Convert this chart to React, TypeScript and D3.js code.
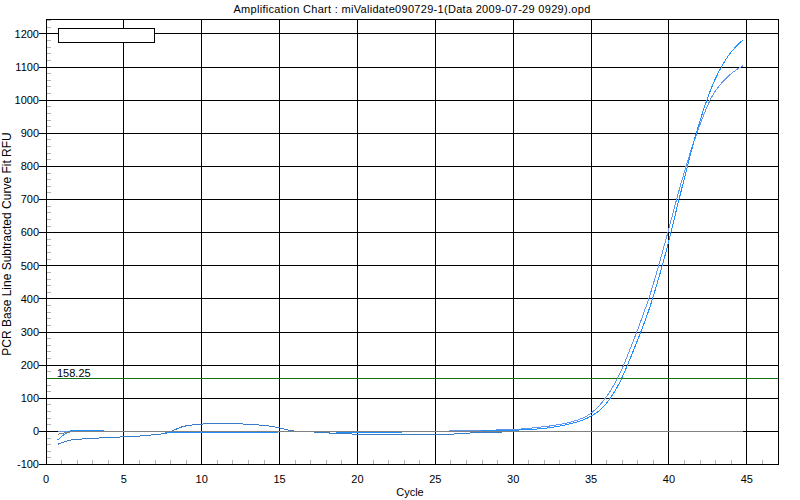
import React from "react";
import * as d3 from "d3";

// ---------- data ----------
const cycles: number[] = d3.range(1, 46);

const ampA: number[] = [
  -26, 3, 3, 1, 0, -1, -1, -2, -2, -2, -2, -2, -2, -2, -2, -1, -1, -1, -2, -2,
  -2, -2, -2, -1, -1, 0, 1, 1, 2,
  3, 5, 8, 14, 24, 40, 72, 140, 248, 372, 532, 720, 900, 1040, 1130, 1182,
];

const ampB: number[] = [
  -1, 0, 0, 0, 0, 0, -1, -1, -1, -1, -1, -1, -1, -1, -1, -1, -1, -1, -1, -1,
  -1, -1, -1, 0, 0, 1, 2, 3, 4,
  5, 8, 13, 19, 29, 47, 90, 165, 278, 408, 570, 745, 895, 1010, 1070, 1104,
];

const bump: number[] = [
  -39, -25, -22, -19, -17, -15, -11, -5, 14, 21, 24, 24, 22, 19, 13, 2, -1, -3,
  -7, -8, -8, -9, -9, -8, -8, -9, -6, -4, -3, -1, 0, 0, 0, 0, 0, 0, 0, 0, 0, 0,
  0, 0, 0, 0, 0,
];

const flatGray: number[] = [
  -9, -1, 0, 0, 0, 0, 0, 0, 0, 0, 0, 0, 0, 0, 0, 0, 0, 0, 0, 0, 0, 0, 0, 0, 0,
  0, 0, 0, 0, 0, 0, 0, 0, 0, 0, 0, 0, 0, 0, 0, 0, 0, 0, 0, 0,
];

const flatPurple: number[] = [
  -2, 0, 0, 0, -1, -1, -1, 0, 0, 0, -1, -1, -1, -1, 0, 0, 0, 0, 0, 0, 0, 0, 0,
  0, -1, -1, -1, 0, 0, 0, 0, 0, 0, 0, 0, 0, 0, 0, 0, 0, 0, 0, 0, 0, 0,
];

const seriesNames = ["purple", "bump", "B", "A", "gray"];
const seriesValues = [flatPurple, bump, ampB, ampA, flatGray];
const seriesColors = ["#8c8ce0", "#3a7cc8", "#6495ed", "#1e90ff", "#808080"];

const xTicks: number[] = [0, 5, 10, 15, 20, 25, 30, 35, 40, 45];
const yTicks: number[] = [-100, 0, 100, 200, 300, 400, 500, 600, 700, 800, 900, 1000, 1100, 1200];
const threshold = 158.25;
const thresholdLabel = "158.25";

const title = "Amplification Chart : miValidate090729-1(Data 2009-07-29 0929).opd";
const xLabel = "Cycle";
const yLabel = "PCR Base Line Subtracted Curve Fit RFU";

// ---------- layout ----------
const W = 800;
const H = 500;
const L = 46;
const R = 778;
const T = 19;
const B = 464.5;
const cycleOffset = 0.25;
const font = "'Liberation Sans', Arial, sans-serif";

export default function App() {
  const x = d3.scaleLinear().domain([0, 47]).range([L, R]);
  const y = d3.scaleLinear().domain([-100, 1245]).range([B, T]);

  const line = d3
    .line<number>()
    .x((_, i) => x(cycles[i] - cycleOffset))
    .y((v) => y(v))
    .curve(d3.curveMonotoneX);

  const xMinor = d3.range(1, 47).filter((c) => c % 5 !== 0);
  const yMinor = d3.range(-100, 1245, 20).filter((v) => v % 100 !== 0);

  return (
    <svg
      width={W}
      height={H}
      style={{ position: "absolute", left: 0, top: 0, background: "#fff" }}
      fontFamily={font}
    >
      <rect x={0} y={0} width={W} height={H} fill="#fff" />
      <text x={412} y={13} fontSize={11} letterSpacing={0.3} textAnchor="middle" fill="#000">
        {title}
      </text>

      {/* grid */}
      <g shapeRendering="crispEdges" stroke="#000" strokeWidth={1}>
        {xTicks.map((t) => (
          <line key={"gx" + t} x1={x(t)} x2={x(t)} y1={T} y2={B} />
        ))}
        {yTicks.map((t) => (
          <line key={"gy" + t} x1={L - 7} x2={R} y1={y(t)} y2={y(t)} />
        ))}
      </g>
      {/* minor ticks */}
      <g shapeRendering="crispEdges" stroke="#b4b4b4" strokeWidth={1}>
        {xMinor.map((t) => (
          <line key={"mx" + t} x1={x(t)} x2={x(t)} y1={B - 5} y2={B} />
        ))}
        {yMinor.map((t) => (
          <line key={"my" + t} x1={L} x2={L + 5} y1={y(t)} y2={y(t)} />
        ))}
      </g>

      {/* threshold */}
      <line
        x1={L}
        x2={R}
        y1={y(threshold)}
        y2={y(threshold)}
        stroke="#137313"
        strokeWidth={1}
        shapeRendering="crispEdges"
      />
      <text x={57} y={y(threshold) - 2} fontSize={11} fill="#000">
        {thresholdLabel}
      </text>

      {/* curves */}
      <g fill="none" strokeWidth={1} shapeRendering="crispEdges">
        {seriesValues.map((vals, i) => (
          <path key={seriesNames[i]} d={line(vals) || ""} stroke={seriesColors[i]} />
        ))}
      </g>

      {/* border */}
      <rect
        x={L}
        y={T}
        width={R - L}
        height={B - T}
        fill="none"
        stroke="#000"
        strokeWidth={1}
        shapeRendering="crispEdges"
      />

      {/* legend box */}
      <rect
        x={58.5}
        y={28.5}
        width={96}
        height={14}
        fill="#fff"
        stroke="#000"
        strokeWidth={1}
        shapeRendering="crispEdges"
      />

      {/* tick labels */}
      {xTicks.map((t) => (
        <text key={"lx" + t} x={x(t)} y={483} fontSize={11} textAnchor="middle" fill="#000">
          {t}
        </text>
      ))}
      {yTicks.map((t) => (
        <text
          key={"ly" + t}
          x={39}
          y={y(t)}
          dy="0.35em"
          fontSize={11}
          textAnchor="end"
          fill="#000"
        >
          {t}
        </text>
      ))}

      <text x={410} y={496} fontSize={11} textAnchor="middle" fill="#000">
        {xLabel}
      </text>
      <text
        transform={`translate(${11},${244}) rotate(-90)`}
        fontSize={12}
        textAnchor="middle"
        fill="#000"
      >
        {yLabel}
      </text>
    </svg>
  );
}
